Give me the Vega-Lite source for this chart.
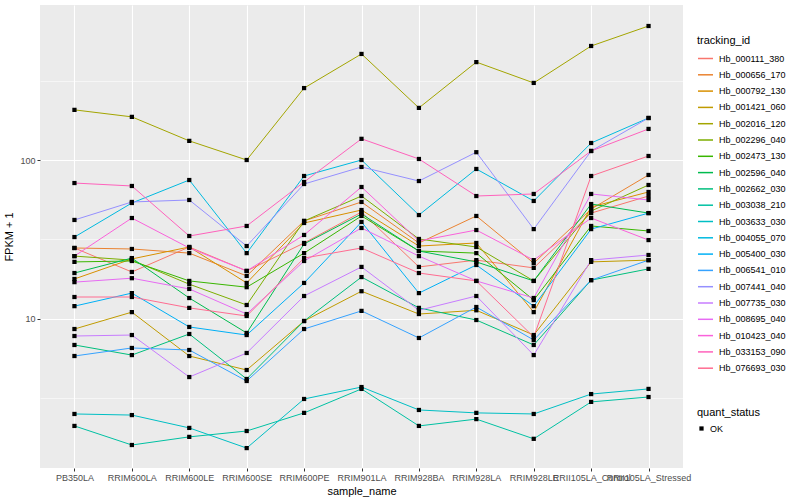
{
"$schema":"https://vega.github.io/schema/vega-lite/v6.json",
"width":643,"height":463,
"autosize":{"type":"none"},
"padding":{"left":40,"top":5,"right":117,"bottom":32},
"background":"white",
"config":{
 "view":{"fill":"#EBEBEB","stroke":null},
 "font":"Liberation Sans",
 "axis":{"domain":false,"gridColor":"white","tickColor":"#333333","labelColor":"#4D4D4D","labelFontSize":9,"titleFontSize":11,"titleFontWeight":"normal","titleColor":"black","tickSize":3},
 "legend":{"titleFontWeight":"normal","titleFontSize":11,"labelFontSize":9,"labelColor":"black","titleColor":"black"}
},
"datasets":{"d":[
{"id":"Hb_000111_380","sample":"PB350LA","fpkm":27.9,"status":"OK"},
{"id":"Hb_000111_380","sample":"RRIM600LA","fpkm":19.7,"status":"OK"},
{"id":"Hb_000111_380","sample":"RRIM600LE","fpkm":28.3,"status":"OK"},
{"id":"Hb_000111_380","sample":"RRIM600SE","fpkm":20.0,"status":"OK"},
{"id":"Hb_000111_380","sample":"RRIM600PE","fpkm":30.0,"status":"OK"},
{"id":"Hb_000111_380","sample":"RRIM901LA","fpkm":47.0,"status":"OK"},
{"id":"Hb_000111_380","sample":"RRIM928BA","fpkm":21.2,"status":"OK"},
{"id":"Hb_000111_380","sample":"RRIM928LA","fpkm":23.4,"status":"OK"},
{"id":"Hb_000111_380","sample":"RRIM928LE","fpkm":20.9,"status":"OK"},
{"id":"Hb_000111_380","sample":"RRII105LA_Control","fpkm":46.3,"status":"OK"},
{"id":"Hb_000111_380","sample":"RRII105LA_Stressed","fpkm":59.3,"status":"OK"},
{"id":"Hb_000656_170","sample":"PB350LA","fpkm":27.9,"status":"OK"},
{"id":"Hb_000656_170","sample":"RRIM600LA","fpkm":27.5,"status":"OK"},
{"id":"Hb_000656_170","sample":"RRIM600LE","fpkm":25.9,"status":"OK"},
{"id":"Hb_000656_170","sample":"RRIM600SE","fpkm":18.6,"status":"OK"},
{"id":"Hb_000656_170","sample":"RRIM600PE","fpkm":41.3,"status":"OK"},
{"id":"Hb_000656_170","sample":"RRIM901LA","fpkm":54.4,"status":"OK"},
{"id":"Hb_000656_170","sample":"RRIM928BA","fpkm":30.0,"status":"OK"},
{"id":"Hb_000656_170","sample":"RRIM928LA","fpkm":44.4,"status":"OK"},
{"id":"Hb_000656_170","sample":"RRIM928LE","fpkm":22.4,"status":"OK"},
{"id":"Hb_000656_170","sample":"RRII105LA_Control","fpkm":49.1,"status":"OK"},
{"id":"Hb_000656_170","sample":"RRII105LA_Stressed","fpkm":80.5,"status":"OK"},
{"id":"Hb_000792_130","sample":"PB350LA","fpkm":17.8,"status":"OK"},
{"id":"Hb_000792_130","sample":"RRIM600LA","fpkm":23.8,"status":"OK"},
{"id":"Hb_000792_130","sample":"RRIM600LE","fpkm":28.3,"status":"OK"},
{"id":"Hb_000792_130","sample":"RRIM600SE","fpkm":16.8,"status":"OK"},
{"id":"Hb_000792_130","sample":"RRIM600PE","fpkm":40.1,"status":"OK"},
{"id":"Hb_000792_130","sample":"RRIM901LA","fpkm":48.4,"status":"OK"},
{"id":"Hb_000792_130","sample":"RRIM928BA","fpkm":28.7,"status":"OK"},
{"id":"Hb_000792_130","sample":"RRIM928LA","fpkm":30.0,"status":"OK"},
{"id":"Hb_000792_130","sample":"RRIM928LE","fpkm":11.0,"status":"OK"},
{"id":"Hb_000792_130","sample":"RRII105LA_Control","fpkm":50.6,"status":"OK"},
{"id":"Hb_000792_130","sample":"RRII105LA_Stressed","fpkm":62.9,"status":"OK"},
{"id":"Hb_001421_060","sample":"PB350LA","fpkm":8.61,"status":"OK"},
{"id":"Hb_001421_060","sample":"RRIM600LA","fpkm":11.0,"status":"OK"},
{"id":"Hb_001421_060","sample":"RRIM600LE","fpkm":5.82,"status":"OK"},
{"id":"Hb_001421_060","sample":"RRIM600SE","fpkm":4.75,"status":"OK"},
{"id":"Hb_001421_060","sample":"RRIM600PE","fpkm":9.67,"status":"OK"},
{"id":"Hb_001421_060","sample":"RRIM901LA","fpkm":14.9,"status":"OK"},
{"id":"Hb_001421_060","sample":"RRIM928BA","fpkm":10.7,"status":"OK"},
{"id":"Hb_001421_060","sample":"RRIM928LA","fpkm":11.3,"status":"OK"},
{"id":"Hb_001421_060","sample":"RRIM928LE","fpkm":7.89,"status":"OK"},
{"id":"Hb_001421_060","sample":"RRII105LA_Control","fpkm":22.8,"status":"OK"},
{"id":"Hb_001421_060","sample":"RRII105LA_Stressed","fpkm":23.4,"status":"OK"},
{"id":"Hb_002016_120","sample":"PB350LA","fpkm":207,"status":"OK"},
{"id":"Hb_002016_120","sample":"RRIM600LA","fpkm":187,"status":"OK"},
{"id":"Hb_002016_120","sample":"RRIM600LE","fpkm":132,"status":"OK"},
{"id":"Hb_002016_120","sample":"RRIM600SE","fpkm":100,"status":"OK"},
{"id":"Hb_002016_120","sample":"RRIM600PE","fpkm":284,"status":"OK"},
{"id":"Hb_002016_120","sample":"RRIM901LA","fpkm":466,"status":"OK"},
{"id":"Hb_002016_120","sample":"RRIM928BA","fpkm":213,"status":"OK"},
{"id":"Hb_002016_120","sample":"RRIM928LA","fpkm":414,"status":"OK"},
{"id":"Hb_002016_120","sample":"RRIM928LE","fpkm":306,"status":"OK"},
{"id":"Hb_002016_120","sample":"RRII105LA_Control","fpkm":523,"status":"OK"},
{"id":"Hb_002016_120","sample":"RRII105LA_Stressed","fpkm":699,"status":"OK"},
{"id":"Hb_002296_040","sample":"PB350LA","fpkm":24.8,"status":"OK"},
{"id":"Hb_002296_040","sample":"RRIM600LA","fpkm":23.4,"status":"OK"},
{"id":"Hb_002296_040","sample":"RRIM600LE","fpkm":16.5,"status":"OK"},
{"id":"Hb_002296_040","sample":"RRIM600SE","fpkm":12.2,"status":"OK"},
{"id":"Hb_002296_040","sample":"RRIM600PE","fpkm":41.3,"status":"OK"},
{"id":"Hb_002296_040","sample":"RRIM901LA","fpkm":59.3,"status":"OK"},
{"id":"Hb_002296_040","sample":"RRIM928BA","fpkm":31.8,"status":"OK"},
{"id":"Hb_002296_040","sample":"RRIM928LA","fpkm":28.3,"status":"OK"},
{"id":"Hb_002296_040","sample":"RRIM928LE","fpkm":17.3,"status":"OK"},
{"id":"Hb_002296_040","sample":"RRII105LA_Control","fpkm":47.7,"status":"OK"},
{"id":"Hb_002296_040","sample":"RRII105LA_Stressed","fpkm":69.6,"status":"OK"},
{"id":"Hb_002473_130","sample":"PB350LA","fpkm":22.8,"status":"OK"},
{"id":"Hb_002473_130","sample":"RRIM600LA","fpkm":23.1,"status":"OK"},
{"id":"Hb_002473_130","sample":"RRIM600LE","fpkm":17.3,"status":"OK"},
{"id":"Hb_002473_130","sample":"RRIM600SE","fpkm":15.8,"status":"OK"},
{"id":"Hb_002473_130","sample":"RRIM600PE","fpkm":25.9,"status":"OK"},
{"id":"Hb_002473_130","sample":"RRIM901LA","fpkm":44.4,"status":"OK"},
{"id":"Hb_002473_130","sample":"RRIM928BA","fpkm":26.7,"status":"OK"},
{"id":"Hb_002473_130","sample":"RRIM928LA","fpkm":25.9,"status":"OK"},
{"id":"Hb_002473_130","sample":"RRIM928LE","fpkm":13.1,"status":"OK"},
{"id":"Hb_002473_130","sample":"RRII105LA_Control","fpkm":38.4,"status":"OK"},
{"id":"Hb_002473_130","sample":"RRII105LA_Stressed","fpkm":35.7,"status":"OK"},
{"id":"Hb_002596_040","sample":"PB350LA","fpkm":19.4,"status":"OK"},
{"id":"Hb_002596_040","sample":"RRIM600LA","fpkm":24.1,"status":"OK"},
{"id":"Hb_002596_040","sample":"RRIM600LE","fpkm":13.5,"status":"OK"},
{"id":"Hb_002596_040","sample":"RRIM600SE","fpkm":8.13,"status":"OK"},
{"id":"Hb_002596_040","sample":"RRIM600PE","fpkm":29.6,"status":"OK"},
{"id":"Hb_002596_040","sample":"RRIM901LA","fpkm":45.7,"status":"OK"},
{"id":"Hb_002596_040","sample":"RRIM928BA","fpkm":26.7,"status":"OK"},
{"id":"Hb_002596_040","sample":"RRIM928LA","fpkm":22.8,"status":"OK"},
{"id":"Hb_002596_040","sample":"RRIM928LE","fpkm":17.3,"status":"OK"},
{"id":"Hb_002596_040","sample":"RRII105LA_Control","fpkm":52.8,"status":"OK"},
{"id":"Hb_002596_040","sample":"RRII105LA_Stressed","fpkm":46.3,"status":"OK"},
{"id":"Hb_002662_030","sample":"PB350LA","fpkm":6.83,"status":"OK"},
{"id":"Hb_002662_030","sample":"RRIM600LA","fpkm":5.90,"status":"OK"},
{"id":"Hb_002662_030","sample":"RRIM600LE","fpkm":8.01,"status":"OK"},
{"id":"Hb_002662_030","sample":"RRIM600SE","fpkm":4.17,"status":"OK"},
{"id":"Hb_002662_030","sample":"RRIM600PE","fpkm":9.67,"status":"OK"},
{"id":"Hb_002662_030","sample":"RRIM901LA","fpkm":18.3,"status":"OK"},
{"id":"Hb_002662_030","sample":"RRIM928BA","fpkm":11.7,"status":"OK"},
{"id":"Hb_002662_030","sample":"RRIM928LA","fpkm":9.81,"status":"OK"},
{"id":"Hb_002662_030","sample":"RRIM928LE","fpkm":6.83,"status":"OK"},
{"id":"Hb_002662_030","sample":"RRII105LA_Control","fpkm":17.5,"status":"OK"},
{"id":"Hb_002662_030","sample":"RRII105LA_Stressed","fpkm":20.6,"status":"OK"},
{"id":"Hb_003038_210","sample":"PB350LA","fpkm":2.11,"status":"OK"},
{"id":"Hb_003038_210","sample":"RRIM600LA","fpkm":1.60,"status":"OK"},
{"id":"Hb_003038_210","sample":"RRIM600LE","fpkm":1.80,"status":"OK"},
{"id":"Hb_003038_210","sample":"RRIM600SE","fpkm":1.96,"status":"OK"},
{"id":"Hb_003038_210","sample":"RRIM600PE","fpkm":2.55,"status":"OK"},
{"id":"Hb_003038_210","sample":"RRIM901LA","fpkm":3.61,"status":"OK"},
{"id":"Hb_003038_210","sample":"RRIM928BA","fpkm":2.11,"status":"OK"},
{"id":"Hb_003038_210","sample":"RRIM928LA","fpkm":2.33,"status":"OK"},
{"id":"Hb_003038_210","sample":"RRIM928LE","fpkm":1.75,"status":"OK"},
{"id":"Hb_003038_210","sample":"RRII105LA_Control","fpkm":2.99,"status":"OK"},
{"id":"Hb_003038_210","sample":"RRII105LA_Stressed","fpkm":3.21,"status":"OK"},
{"id":"Hb_003633_030","sample":"PB350LA","fpkm":2.51,"status":"OK"},
{"id":"Hb_003633_030","sample":"RRIM600LA","fpkm":2.47,"status":"OK"},
{"id":"Hb_003633_030","sample":"RRIM600LE","fpkm":2.05,"status":"OK"},
{"id":"Hb_003633_030","sample":"RRIM600SE","fpkm":1.53,"status":"OK"},
{"id":"Hb_003633_030","sample":"RRIM600PE","fpkm":3.12,"status":"OK"},
{"id":"Hb_003633_030","sample":"RRIM901LA","fpkm":3.71,"status":"OK"},
{"id":"Hb_003633_030","sample":"RRIM928BA","fpkm":2.66,"status":"OK"},
{"id":"Hb_003633_030","sample":"RRIM928LA","fpkm":2.55,"status":"OK"},
{"id":"Hb_003633_030","sample":"RRIM928LE","fpkm":2.51,"status":"OK"},
{"id":"Hb_003633_030","sample":"RRII105LA_Control","fpkm":3.35,"status":"OK"},
{"id":"Hb_003633_030","sample":"RRII105LA_Stressed","fpkm":3.61,"status":"OK"},
{"id":"Hb_004055_070","sample":"PB350LA","fpkm":32.7,"status":"OK"},
{"id":"Hb_004055_070","sample":"RRIM600LA","fpkm":53.6,"status":"OK"},
{"id":"Hb_004055_070","sample":"RRIM600LE","fpkm":74.8,"status":"OK"},
{"id":"Hb_004055_070","sample":"RRIM600SE","fpkm":25.9,"status":"OK"},
{"id":"Hb_004055_070","sample":"RRIM600PE","fpkm":79.3,"status":"OK"},
{"id":"Hb_004055_070","sample":"RRIM901LA","fpkm":100,"status":"OK"},
{"id":"Hb_004055_070","sample":"RRIM928BA","fpkm":45.0,"status":"OK"},
{"id":"Hb_004055_070","sample":"RRIM928LA","fpkm":87.8,"status":"OK"},
{"id":"Hb_004055_070","sample":"RRIM928LE","fpkm":55.2,"status":"OK"},
{"id":"Hb_004055_070","sample":"RRII105LA_Control","fpkm":128,"status":"OK"},
{"id":"Hb_004055_070","sample":"RRII105LA_Stressed","fpkm":184,"status":"OK"},
{"id":"Hb_005400_030","sample":"PB350LA","fpkm":12.0,"status":"OK"},
{"id":"Hb_005400_030","sample":"RRIM600LA","fpkm":14.5,"status":"OK"},
{"id":"Hb_005400_030","sample":"RRIM600LE","fpkm":8.87,"status":"OK"},
{"id":"Hb_005400_030","sample":"RRIM600SE","fpkm":7.89,"status":"OK"},
{"id":"Hb_005400_030","sample":"RRIM600PE","fpkm":16.8,"status":"OK"},
{"id":"Hb_005400_030","sample":"RRIM901LA","fpkm":40.7,"status":"OK"},
{"id":"Hb_005400_030","sample":"RRIM928BA","fpkm":14.5,"status":"OK"},
{"id":"Hb_005400_030","sample":"RRIM928LA","fpkm":21.8,"status":"OK"},
{"id":"Hb_005400_030","sample":"RRIM928LE","fpkm":12.0,"status":"OK"},
{"id":"Hb_005400_030","sample":"RRII105LA_Control","fpkm":36.7,"status":"OK"},
{"id":"Hb_005400_030","sample":"RRII105LA_Stressed","fpkm":46.3,"status":"OK"},
{"id":"Hb_006541_010","sample":"PB350LA","fpkm":5.82,"status":"OK"},
{"id":"Hb_006541_010","sample":"RRIM600LA","fpkm":6.54,"status":"OK"},
{"id":"Hb_006541_010","sample":"RRIM600LE","fpkm":6.35,"status":"OK"},
{"id":"Hb_006541_010","sample":"RRIM600SE","fpkm":4.05,"status":"OK"},
{"id":"Hb_006541_010","sample":"RRIM600PE","fpkm":8.61,"status":"OK"},
{"id":"Hb_006541_010","sample":"RRIM901LA","fpkm":11.2,"status":"OK"},
{"id":"Hb_006541_010","sample":"RRIM928BA","fpkm":7.56,"status":"OK"},
{"id":"Hb_006541_010","sample":"RRIM928LA","fpkm":11.85,"status":"OK"},
{"id":"Hb_006541_010","sample":"RRIM928LE","fpkm":7.34,"status":"OK"},
{"id":"Hb_006541_010","sample":"RRII105LA_Control","fpkm":17.5,"status":"OK"},
{"id":"Hb_006541_010","sample":"RRII105LA_Stressed","fpkm":23.4,"status":"OK"},
{"id":"Hb_007441_040","sample":"PB350LA","fpkm":41.9,"status":"OK"},
{"id":"Hb_007441_040","sample":"RRIM600LA","fpkm":54.4,"status":"OK"},
{"id":"Hb_007441_040","sample":"RRIM600LE","fpkm":56.0,"status":"OK"},
{"id":"Hb_007441_040","sample":"RRIM600SE","fpkm":28.7,"status":"OK"},
{"id":"Hb_007441_040","sample":"RRIM600PE","fpkm":70.6,"status":"OK"},
{"id":"Hb_007441_040","sample":"RRIM901LA","fpkm":90.4,"status":"OK"},
{"id":"Hb_007441_040","sample":"RRIM928BA","fpkm":73.7,"status":"OK"},
{"id":"Hb_007441_040","sample":"RRIM928LA","fpkm":112,"status":"OK"},
{"id":"Hb_007441_040","sample":"RRIM928LE","fpkm":36.7,"status":"OK"},
{"id":"Hb_007441_040","sample":"RRII105LA_Control","fpkm":114,"status":"OK"},
{"id":"Hb_007441_040","sample":"RRII105LA_Stressed","fpkm":184,"status":"OK"},
{"id":"Hb_007735_030","sample":"PB350LA","fpkm":7.78,"status":"OK"},
{"id":"Hb_007735_030","sample":"RRIM600LA","fpkm":7.89,"status":"OK"},
{"id":"Hb_007735_030","sample":"RRIM600LE","fpkm":4.29,"status":"OK"},
{"id":"Hb_007735_030","sample":"RRIM600SE","fpkm":6.08,"status":"OK"},
{"id":"Hb_007735_030","sample":"RRIM600PE","fpkm":13.9,"status":"OK"},
{"id":"Hb_007735_030","sample":"RRIM901LA","fpkm":21.2,"status":"OK"},
{"id":"Hb_007735_030","sample":"RRIM928BA","fpkm":11.3,"status":"OK"},
{"id":"Hb_007735_030","sample":"RRIM928LA","fpkm":13.9,"status":"OK"},
{"id":"Hb_007735_030","sample":"RRIM928LE","fpkm":5.90,"status":"OK"},
{"id":"Hb_007735_030","sample":"RRII105LA_Control","fpkm":23.4,"status":"OK"},
{"id":"Hb_007735_030","sample":"RRII105LA_Stressed","fpkm":25.2,"status":"OK"},
{"id":"Hb_008695_040","sample":"PB350LA","fpkm":17.0,"status":"OK"},
{"id":"Hb_008695_040","sample":"RRIM600LA","fpkm":18.0,"status":"OK"},
{"id":"Hb_008695_040","sample":"RRIM600LE","fpkm":15.4,"status":"OK"},
{"id":"Hb_008695_040","sample":"RRIM600SE","fpkm":10.7,"status":"OK"},
{"id":"Hb_008695_040","sample":"RRIM600PE","fpkm":23.1,"status":"OK"},
{"id":"Hb_008695_040","sample":"RRIM901LA","fpkm":37.3,"status":"OK"},
{"id":"Hb_008695_040","sample":"RRIM928BA","fpkm":24.8,"status":"OK"},
{"id":"Hb_008695_040","sample":"RRIM928LA","fpkm":17.3,"status":"OK"},
{"id":"Hb_008695_040","sample":"RRIM928LE","fpkm":13.5,"status":"OK"},
{"id":"Hb_008695_040","sample":"RRII105LA_Control","fpkm":61.1,"status":"OK"},
{"id":"Hb_008695_040","sample":"RRII105LA_Stressed","fpkm":56.0,"status":"OK"},
{"id":"Hb_010423_040","sample":"PB350LA","fpkm":24.8,"status":"OK"},
{"id":"Hb_010423_040","sample":"RRIM600LA","fpkm":43.1,"status":"OK"},
{"id":"Hb_010423_040","sample":"RRIM600LE","fpkm":27.9,"status":"OK"},
{"id":"Hb_010423_040","sample":"RRIM600SE","fpkm":20.0,"status":"OK"},
{"id":"Hb_010423_040","sample":"RRIM600PE","fpkm":33.7,"status":"OK"},
{"id":"Hb_010423_040","sample":"RRIM901LA","fpkm":67.6,"status":"OK"},
{"id":"Hb_010423_040","sample":"RRIM928BA","fpkm":30.9,"status":"OK"},
{"id":"Hb_010423_040","sample":"RRIM928LA","fpkm":36.2,"status":"OK"},
{"id":"Hb_010423_040","sample":"RRIM928LE","fpkm":23.4,"status":"OK"},
{"id":"Hb_010423_040","sample":"RRII105LA_Control","fpkm":43.1,"status":"OK"},
{"id":"Hb_010423_040","sample":"RRII105LA_Stressed","fpkm":31.3,"status":"OK"},
{"id":"Hb_033153_090","sample":"PB350LA","fpkm":71.6,"status":"OK"},
{"id":"Hb_033153_090","sample":"RRIM600LA","fpkm":68.6,"status":"OK"},
{"id":"Hb_033153_090","sample":"RRIM600LE","fpkm":33.2,"status":"OK"},
{"id":"Hb_033153_090","sample":"RRIM600SE","fpkm":38.4,"status":"OK"},
{"id":"Hb_033153_090","sample":"RRIM600PE","fpkm":72.7,"status":"OK"},
{"id":"Hb_033153_090","sample":"RRIM901LA","fpkm":136,"status":"OK"},
{"id":"Hb_033153_090","sample":"RRIM928BA","fpkm":101.5,"status":"OK"},
{"id":"Hb_033153_090","sample":"RRIM928LA","fpkm":59.3,"status":"OK"},
{"id":"Hb_033153_090","sample":"RRIM928LE","fpkm":61.1,"status":"OK"},
{"id":"Hb_033153_090","sample":"RRII105LA_Control","fpkm":114,"status":"OK"},
{"id":"Hb_033153_090","sample":"RRII105LA_Stressed","fpkm":157,"status":"OK"},
{"id":"Hb_076693_030","sample":"PB350LA","fpkm":13.7,"status":"OK"},
{"id":"Hb_076693_030","sample":"RRIM600LA","fpkm":13.7,"status":"OK"},
{"id":"Hb_076693_030","sample":"RRIM600LE","fpkm":11.7,"status":"OK"},
{"id":"Hb_076693_030","sample":"RRIM600SE","fpkm":10.4,"status":"OK"},
{"id":"Hb_076693_030","sample":"RRIM600PE","fpkm":24.1,"status":"OK"},
{"id":"Hb_076693_030","sample":"RRIM901LA","fpkm":27.9,"status":"OK"},
{"id":"Hb_076693_030","sample":"RRIM928BA","fpkm":19.4,"status":"OK"},
{"id":"Hb_076693_030","sample":"RRIM928LA","fpkm":17.3,"status":"OK"},
{"id":"Hb_076693_030","sample":"RRIM928LE","fpkm":7.67,"status":"OK"},
{"id":"Hb_076693_030","sample":"RRII105LA_Control","fpkm":79.3,"status":"OK"},
{"id":"Hb_076693_030","sample":"RRII105LA_Stressed","fpkm":106,"status":"OK"}
]},
"data":{"name":"d"},
"encoding":{
 "x":{"field":"sample","type":"ordinal",
  "sort":["PB350LA","RRIM600LA","RRIM600LE","RRIM600SE","RRIM600PE","RRIM901LA","RRIM928BA","RRIM928LA","RRIM928LE","RRII105LA_Control","RRII105LA_Stressed"],
  "scale":{"type":"point","padding":0.6},
  "axis":{"title":"sample_name","labelAngle":0,"grid":true,"gridWidth":1.1,"labelOverlap":false,"labelPadding":2,"titlePadding":3}}
},
"layer":[
 {"mark":{"type":"line","strokeWidth":1},
  "encoding":{
   "y":{"field":"fpkm","type":"quantitative","scale":{"type":"log","domain":[1.146,948],"nice":false,"zero":false},
     "axis":{"orient":"right","values":[3.1623,31.623,316.23],"grid":true,"gridWidth":0.55,"labels":false,"ticks":false,"title":null}},
   "color":{"field":"id","type":"nominal",
     "scale":{"domain":["Hb_000111_380","Hb_000656_170","Hb_000792_130","Hb_001421_060","Hb_002016_120","Hb_002296_040","Hb_002473_130","Hb_002596_040","Hb_002662_030","Hb_003038_210","Hb_003633_030","Hb_004055_070","Hb_005400_030","Hb_006541_010","Hb_007441_040","Hb_007735_030","Hb_008695_040","Hb_010423_040","Hb_033153_090","Hb_076693_030"],
       "range":["#F8766D","#EA8331","#D89000","#C09B00","#A3A500","#7CAE00","#39B600","#00BB4E","#00BF7D","#00C1A3","#00BFC4","#00BAE0","#00B0F6","#35A2FF","#9590FF","#C77CFF","#E76BF3","#FA62DB","#FF62BC","#FF6C91"]},
     "legend":{"title":"tracking_id","orient":"none","legendX":657,"legendY":30,"symbolType":"stroke","symbolSize":225,"symbolStrokeWidth":1.5,"rowPadding":2.3,"labelOffset":5,"titlePadding":4}},
   "order":{"value":null}
  }},
 {"mark":{"type":"point","shape":"square","filled":true,"color":"black","size":18,"opacity":1},
  "encoding":{
   "y":{"field":"fpkm","type":"quantitative","scale":{"type":"log","domain":[1.146,948],"nice":false,"zero":false},
     "axis":{"orient":"left","values":[10,100],"format":"d","grid":true,"gridWidth":1.1,"title":"FPKM + 1","labelPadding":2,"titlePadding":5}},
   "shape":{"field":"status","type":"nominal","scale":{"range":["square"]},
     "legend":{"title":"quant_status","orient":"none","legendX":657,"legendY":402,"symbolSize":18,"symbolFillColor":"black","symbolStrokeColor":"black","titlePadding":6}}
  }}
],
"resolve":{"axis":{"y":"independent"}}
}
